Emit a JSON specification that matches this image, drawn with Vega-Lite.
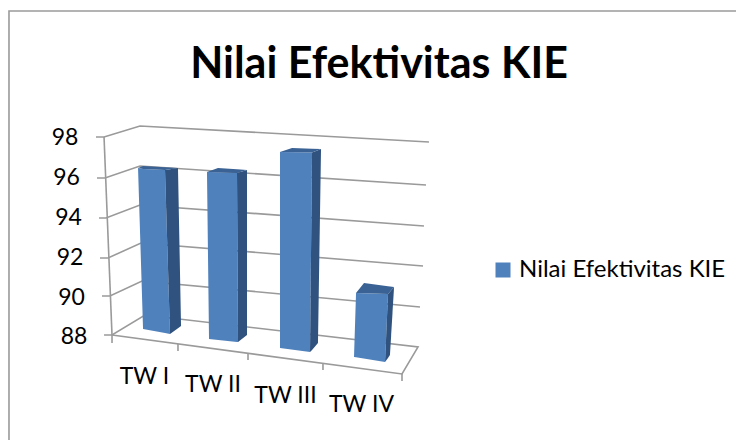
{
"$schema":"https://vega.github.io/schema/vega-lite/v6.json",
"autosize":"none","width":736,"height":440,"padding":0,
"background":"white",
"view":{"stroke":null},
"title":{"text":"Nilai Efektivitas KIE","font":"Lato","fontSize":43,"fontWeight":"bold","color":"#000000","anchor":"middle","frame":"group","dx":11,"offset":-121,"baseline":"alphabetic"},
"datasets":{
"lines":[
{"id":"frame","o":1,"x":-1.421,"y":82.697},{"id":"frame","o":2,"x":-1.421,"y":104.363},{"id":"frame","o":3,"x":8.607,"y":104.363},
{"id":"axis","o":1,"x":-0.11,"y":98},{"id":"axis","o":2,"x":0,"y":88},
{"id":"g98","o":1,"x":-0.221,"y":98},{"id":"g98","o":2,"x":-0.11,"y":98},{"id":"g98","o":3,"x":0.386,"y":98.556},{"id":"g98","o":4,"x":4.372,"y":97.747},
{"id":"g96","o":1,"x":-0.207,"y":95.929},{"id":"g96","o":2,"x":-0.097,"y":95.929},{"id":"g96","o":3,"x":0.386,"y":96.535},{"id":"g96","o":4,"x":4.331,"y":95.576},
{"id":"g94","o":1,"x":-0.179,"y":93.909},{"id":"g94","o":2,"x":-0.083,"y":93.909},{"id":"g94","o":3,"x":0.386,"y":94.566},{"id":"g94","o":4,"x":4.303,"y":93.505},
{"id":"g92","o":1,"x":-0.166,"y":91.889},{"id":"g92","o":2,"x":-0.055,"y":91.889},{"id":"g92","o":3,"x":0.4,"y":92.646},{"id":"g92","o":4,"x":4.29,"y":91.485},
{"id":"g90","o":1,"x":-0.138,"y":89.97},{"id":"g90","o":2,"x":-0.028,"y":89.97},{"id":"g90","o":3,"x":0.414,"y":90.727},{"id":"g90","o":4,"x":4.248,"y":89.414},
{"id":"g88","o":1,"x":-0.11,"y":88},{"id":"g88","o":2,"x":0,"y":88},{"id":"g88","o":3,"x":0.455,"y":89.01},{"id":"g88","o":4,"x":4.221,"y":87.394},{"id":"g88","o":5,"x":4,"y":86.03},{"id":"g88","o":6,"x":0,"y":88},
{"id":"t0","o":1,"x":0,"y":88},{"id":"t0","o":2,"x":0,"y":87.596},
{"id":"t1","o":1,"x":0.91,"y":87.545},{"id":"t1","o":2,"x":0.91,"y":87.192},
{"id":"t2","o":1,"x":1.876,"y":87.091},{"id":"t2","o":2,"x":1.876,"y":86.737},
{"id":"t3","o":1,"x":2.91,"y":86.586},{"id":"t3","o":2,"x":2.91,"y":86.232},
{"id":"t4","o":1,"x":4,"y":86.03},{"id":"t4","o":2,"x":4,"y":85.677}
],
"front":[
{"series":"Nilai Efektivitas KIE","bar":"TW I","x":0.359,"top":96.434,"bottom":96.434},{"series":"Nilai Efektivitas KIE","bar":"TW I","x":0.428,"top":96.389,"bottom":88.303},{"series":"Nilai Efektivitas KIE","bar":"TW I","x":0.731,"top":96.333,"bottom":88.101},{"series":"Nilai Efektivitas KIE","bar":"TW I","x":0.8,"top":88.05,"bottom":88.05},
{"series":"Nilai Efektivitas KIE","bar":"TW II","x":1.31,"top":96.232,"bottom":96.232},{"series":"Nilai Efektivitas KIE","bar":"TW II","x":1.338,"top":96.227,"bottom":87.798},{"series":"Nilai Efektivitas KIE","bar":"TW II","x":1.724,"top":96.187,"bottom":87.646},{"series":"Nilai Efektivitas KIE","bar":"TW II","x":1.738,"top":87.646,"bottom":87.646},
{"series":"Nilai Efektivitas KIE","bar":"TW III","x":2.317,"top":97.242,"bottom":87.343},{"series":"Nilai Efektivitas KIE","bar":"TW III","x":2.731,"top":97.222,"bottom":87.141},{"series":"Nilai Efektivitas KIE","bar":"TW III","x":2.759,"top":97.217,"bottom":97.217},
{"series":"Nilai Efektivitas KIE","bar":"TW IV","x":3.338,"top":86.889,"bottom":86.889},{"series":"Nilai Efektivitas KIE","bar":"TW IV","x":3.366,"top":90.121,"bottom":86.874},{"series":"Nilai Efektivitas KIE","bar":"TW IV","x":3.766,"top":90.076,"bottom":86.636},{"series":"Nilai Efektivitas KIE","bar":"TW IV","x":3.807,"top":90.071,"bottom":90.071}
],
"side":[
{"bar":"TW I","x":0.731,"top":96.333,"bottom":96.333},{"bar":"TW I","x":0.8,"top":96.374,"bottom":88.05},{"bar":"TW I","x":0.91,"top":96.434,"bottom":88.343},{"bar":"TW I","x":0.952,"top":88.454,"bottom":88.454},
{"bar":"TW II","x":1.724,"top":96.182,"bottom":96.182},{"bar":"TW II","x":1.738,"top":96.197,"bottom":87.646},{"bar":"TW II","x":1.862,"top":96.333,"bottom":88.0},
{"bar":"TW III","x":2.731,"top":87.141,"bottom":87.141},{"bar":"TW III","x":2.759,"top":97.217,"bottom":87.242},{"bar":"TW III","x":2.841,"top":97.333,"bottom":87.596},{"bar":"TW III","x":2.883,"top":97.394,"bottom":97.394},
{"bar":"TW IV","x":3.766,"top":86.636,"bottom":86.636},{"bar":"TW IV","x":3.807,"top":90.071,"bottom":86.838},{"bar":"TW IV","x":3.834,"top":90.187,"bottom":86.99},{"bar":"TW IV","x":3.89,"top":90.424,"bottom":90.424}
],
"cap":[
{"bar":"TW I","x":0.359,"top":96.434,"bottom":96.434},{"bar":"TW I","x":0.428,"top":96.535,"bottom":96.389},{"bar":"TW I","x":0.731,"top":96.47,"bottom":96.333},{"bar":"TW I","x":0.91,"top":96.434,"bottom":96.434},
{"bar":"TW II","x":1.31,"top":96.232,"bottom":96.232},{"bar":"TW II","x":1.462,"top":96.434,"bottom":96.212},{"bar":"TW II","x":1.724,"top":96.368,"bottom":96.187},{"bar":"TW II","x":1.862,"top":96.333,"bottom":96.333},
{"bar":"TW III","x":2.317,"top":97.242,"bottom":97.242},{"bar":"TW III","x":2.483,"top":97.444,"bottom":97.232},{"bar":"TW III","x":2.759,"top":97.409,"bottom":97.217},{"bar":"TW III","x":2.883,"top":97.394,"bottom":97.394},
{"bar":"TW IV","x":3.366,"top":90.121,"bottom":90.121},{"bar":"TW IV","x":3.476,"top":90.626,"bottom":90.111},{"bar":"TW IV","x":3.807,"top":90.464,"bottom":90.071},{"bar":"TW IV","x":3.89,"top":90.424,"bottom":90.424}
],
"labels":[
{"t":"98","x":-0.648,"y":97.949},{"t":"96","x":-0.628,"y":95.929},{"t":"94","x":-0.6,"y":93.909},{"t":"92","x":-0.579,"y":91.889},{"t":"90","x":-0.559,"y":89.869},{"t":"88","x":-0.524,"y":87.899},
{"t":"TW I","x":0.448,"y":85.904},{"t":"TW II","x":1.393,"y":85.475},{"t":"TW III","x":2.393,"y":84.944},{"t":"TW IV","x":3.441,"y":84.464}
]
},
"encoding":{
"x":{"field":"x","type":"quantitative","axis":null,"scale":{"domain":[-1.545,8.607],"nice":false,"zero":false}},
"y":{"field":"y","type":"quantitative","axis":null,"scale":{"domain":[82.697,104.919],"nice":false,"zero":false}}
},
"layer":[
{"data":{"name":"lines"},"mark":{"type":"line","color":"#9a9a9a","strokeWidth":1.6,"clip":false},
 "encoding":{"detail":{"field":"id"},"order":{"field":"o","type":"quantitative"}}},
{"data":{"name":"front"},"mark":{"type":"area"},
 "encoding":{"y":{"field":"top","type":"quantitative","stack":null,"axis":null,"scale":{"domain":[82.697,104.919],"nice":false,"zero":false}},"y2":{"field":"bottom"},"detail":{"field":"bar"},
 "color":{"field":"series","type":"nominal","scale":{"range":["#4F81BD"]},"legend":{"title":null,"orient":"none","legendX":491,"legendY":258,"symbolType":"square","symbolSize":225,"symbolStrokeWidth":0,"labelFont":"Lato","labelFontSize":24,"labelColor":"#000000","labelOffset":4,"labelLimit":300}}}},
{"data":{"name":"side"},"mark":{"type":"area","color":"#30527F"},
 "encoding":{"y":{"field":"top","type":"quantitative","stack":null,"axis":null,"scale":{"domain":[82.697,104.919],"nice":false,"zero":false}},"y2":{"field":"bottom"},"detail":{"field":"bar"}}},
{"data":{"name":"cap"},"mark":{"type":"area","color":"#3A6294"},
 "encoding":{"y":{"field":"top","type":"quantitative","stack":null,"axis":null,"scale":{"domain":[82.697,104.919],"nice":false,"zero":false}},"y2":{"field":"bottom"},"detail":{"field":"bar"}}},
{"data":{"name":"labels"},"mark":{"type":"text","font":"Lato","fontSize":23,"color":"#000000","align":"center","baseline":"middle"},
 "encoding":{"text":{"field":"t","type":"nominal"}}}
]
}
